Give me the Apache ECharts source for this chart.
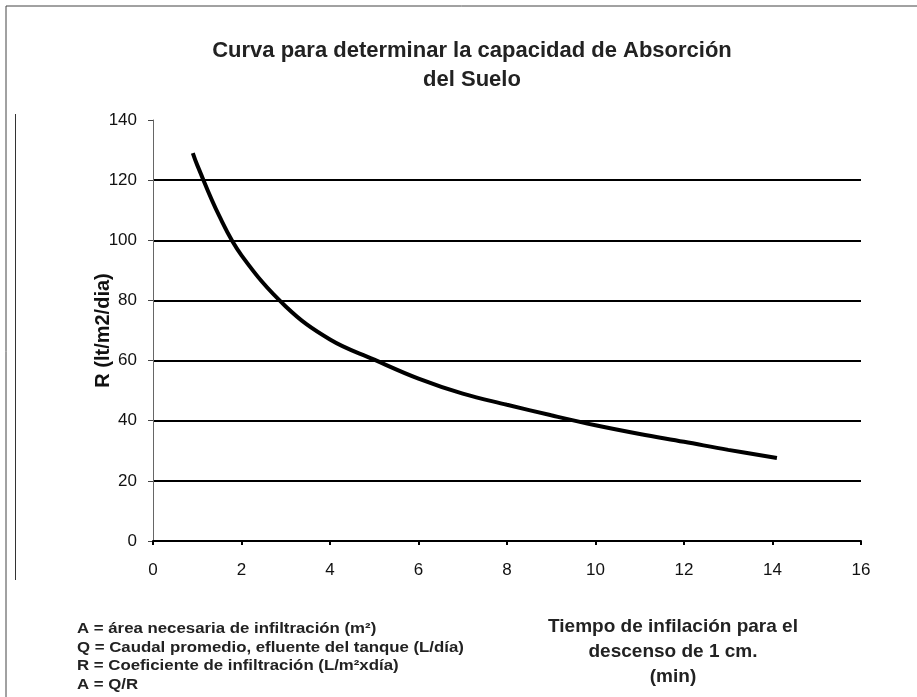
<!DOCTYPE html>
<html>
<head>
<meta charset="utf-8">
<script src="https://cdn.jsdelivr.net/npm/echarts@6/dist/echarts.min.js"></script>
<style>
  html, body { margin: 0; padding: 0; background: #fff; }
  #chart { width: 917px; height: 697px; }
</style>
</head>
<body>
<div id="chart"></div>
<script>
// Infiltration time (min) for a 1 cm drop, and absorption coefficient R (lt/m2/dia)
const tiempo = [0.9, 1, 1.5, 2, 3, 4, 5, 6, 7, 8, 9, 10, 11, 12, 13, 14.1];
const coefR  = [129, 125, 108, 95, 78, 67, 60.3, 54, 49, 45.3, 41.8, 38.5, 35.6, 33, 30.3, 27.6];

const xTicks = { min: 0, max: 16, interval: 2 };
const yTicks = { min: 0, max: 140, interval: 20 };

const titleLines = ['Curva para determinar la capacidad de Absorción', 'del Suelo'];
const yName = 'R (lt/m2/dia)';
const xNameLines = ['Tiempo de infilación para el', 'descenso de 1 cm.', '(min)'];
const notes = [
  'A = área necesaria de infiltración (m²)',
  'Q = Caudal promedio, efluente del tanque (L/día)',
  'R = Coeficiente de infiltración (L/m²xdía)',
  'A = Q/R'
];

const points = tiempo.map((t, i) => [t, coefR[i]]);
const FONT = 'Liberation Sans, Arial, sans-serif';

const chart = echarts.init(document.getElementById('chart'));
chart.setOption({
  backgroundColor: '#fff',
  animation: false,
  grid: { left: 153, right: 56, top: 120, bottom: 156 },
  xAxis: {
    type: 'value',
    min: xTicks.min, max: xTicks.max, interval: xTicks.interval,
    axisLine: { lineStyle: { color: '#000', width: 2 } },
    axisTick: { show: true, length: 4, lineStyle: { color: '#000', width: 2 } },
    axisLabel: { color: '#111', fontSize: 17, fontFamily: FONT, margin: 21 },
    splitLine: { show: false }
  },
  yAxis: {
    type: 'value',
    min: yTicks.min, max: yTicks.max, interval: yTicks.interval,
    name: yName,
    nameLocation: 'middle',
    nameRotate: 90,
    nameGap: 40,
    nameMoveOverlap: false,
    nameTextStyle: { color: '#111', fontSize: 20, fontWeight: 'bold', fontFamily: FONT },
    axisLine: { show: true, lineStyle: { color: '#666', width: 1 } },
    axisTick: { show: true, length: 5, lineStyle: { color: '#444', width: 1 } },
    axisLabel: { color: '#111', fontSize: 17, fontFamily: FONT, margin: 16 },
    splitLine: { show: true, showMaxLine: false, lineStyle: { color: '#000', width: 1.8 } }
  },
  series: [{
    type: 'line',
    data: points,
    smooth: 0.4,
    showSymbol: false,
    lineStyle: { color: '#000', width: 4 }
  }],
  graphic: [
    // frame lines
    { type: 'line', shape: { x1: 6, y1: 6, x2: 917, y2: 6 }, style: { stroke: '#444', lineWidth: 1 } },
    { type: 'line', shape: { x1: 6, y1: 6, x2: 6, y2: 697 }, style: { stroke: '#444', lineWidth: 1 } },
    { type: 'line', shape: { x1: 15.5, y1: 114, x2: 15.5, y2: 580 }, style: { stroke: '#333', lineWidth: 1 } },
    // title
    {
      type: 'text', x: 472, y: 36,
      style: {
        text: titleLines.join('\n'), align: 'center', verticalAlign: 'top', lineHeight: 29,
        font: 'bold 22px ' + FONT, fill: '#222'
      }
    },
    // x axis title
    {
      type: 'text', x: 673, y: 614,
      style: {
        text: xNameLines.join('\n'), align: 'center', verticalAlign: 'top', lineHeight: 25,
        font: 'bold 19px ' + FONT, fill: '#222'
      }
    },
    // notes
    {
      type: 'text', x: 77, y: 620, scaleX: 1.2,
      style: {
        text: notes.join('\n'), align: 'left', verticalAlign: 'top', lineHeight: 18.5,
        font: 'bold 14px ' + FONT, fill: '#222'
      }
    }
  ]
});
</script>
</body>
</html>
